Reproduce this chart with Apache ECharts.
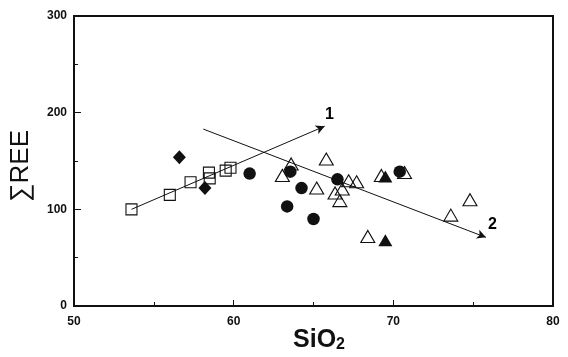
<!DOCTYPE html>
<html>
<head>
<meta charset="utf-8">
<script src="https://cdn.jsdelivr.net/npm/echarts@6/dist/echarts.min.js"></script>
<style>html,body{margin:0;padding:0;background:#fff}#c{width:568px;height:357px}</style>
</head>
<body>
<div id="c"></div>
<script>
const xTicks = [50, 60, 70, 80];
const yTicks = [0, 100, 200, 300];
const openSquares = [[53.6,100],[56,115],[57.3,128],[58.5,132],[58.45,138],[59.5,140],[59.8,143]];
const filledDiamonds = [[56.6,154],[58.2,122]];
const filledCircles = [[61,137],[63.55,139],[63.35,103],[64.25,122],[65,90],[66.5,131],[70.4,139]];
const openTriangles = [[63.6,147],[63.05,135],[65.8,152],[65.2,122],[67.2,129.5],[67.7,128.5],[66.8,121],[66.35,117],[66.65,109],[69.25,135],[70.7,138],[68.4,72],[73.6,94],[74.8,110]];
const filledTriangles = [[69.5,134],[69.5,68]];
const trend1 = [[53.6,100],[65.7,186]];
const trend2 = [[58.1,183],[75.8,71]];
const trendLabels = [[66.0,198,'1'],[76.2,84,'2']];

const chart = echarts.init(document.getElementById('c'), null, {renderer:'canvas'});
const ink = '#111';
const lab = {fontFamily:'Liberation Sans, Arial, sans-serif', fontWeight:'bold', fontSize:12, color:ink};
function trendSeries(pts){
  return {type:'line', data:[], silent:true,
    markLine:{silent:true, symbol:['none','arrow'], symbolSize:[7,9], animation:false,
      label:{show:false}, lineStyle:{color:ink, width:1, type:'solid', opacity:1},
      data:[[{coord:pts[0]},{coord:pts[1]}]]}};
}
chart.setOption({
  animation:false,
  backgroundColor:'#fff',
  grid:{left:74, right:15, top:16, bottom:51, show:true, borderColor:ink, borderWidth:2, backgroundColor:'transparent'},
  xAxis:{type:'value', min:xTicks[0], max:xTicks[xTicks.length-1], interval:10,
    axisLine:{show:true, onZero:false, lineStyle:{color:ink, width:2}},
    axisTick:{show:true, inside:true, length:6, lineStyle:{color:ink, width:1}},
    minorTick:{show:true, splitNumber:2, length:4, lineStyle:{color:ink, width:1}},
    splitLine:{show:false},
    axisLabel:Object.assign({margin:10}, lab)},
  yAxis:{type:'value', min:yTicks[0], max:yTicks[yTicks.length-1], interval:100,
    axisLine:{show:true, onZero:false, lineStyle:{color:ink, width:2}},
    axisTick:{show:true, inside:true, length:7, lineStyle:{color:ink, width:1}},
    minorTick:{show:true, splitNumber:2, length:4, lineStyle:{color:ink, width:1}},
    splitLine:{show:false},
    axisLabel:Object.assign({margin:7}, lab)},
  graphic:[
    {type:'text', x:21, y:166, rotation:Math.PI/2,
      style:{text:'\u2211REE', font:'26px "Liberation Sans", Arial, sans-serif', fill:ink, textAlign:'center', textVerticalAlign:'middle'}},
    {type:'text', x:319, y:340,
      style:{text:'{a|SiO}{b|2}', textAlign:'center', textVerticalAlign:'middle',
        rich:{a:{fontFamily:'Liberation Sans, Arial, sans-serif', fontWeight:'bold', fontSize:25, fill:ink, color:ink},
              b:{fontFamily:'Liberation Sans, Arial, sans-serif', fontWeight:'bold', fontSize:16, fill:ink, color:ink, verticalAlign:'bottom', padding:[8,0,0,0]}}}}
  ],
  series:[
    trendSeries(trend1),
    trendSeries(trend2),
    {type:'scatter', data:openTriangles, symbol:'triangle', symbolSize:[14,12],
      itemStyle:{color:'rgba(255,255,255,0)', borderColor:ink, borderWidth:1.1, opacity:1}},
    {type:'scatter', data:openSquares, symbol:'rect', symbolSize:11,
      itemStyle:{color:'rgba(255,255,255,0)', borderColor:ink, borderWidth:1.1, opacity:1}},
    {type:'scatter', data:filledDiamonds, symbol:'diamond', symbolSize:[13,14],
      itemStyle:{color:ink, opacity:1}},
    {type:'scatter', data:filledCircles, symbol:'circle', symbolSize:12.5,
      itemStyle:{color:ink, opacity:1}},
    {type:'scatter', data:filledTriangles, symbol:'triangle', symbolSize:[14,12],
      itemStyle:{color:ink, opacity:1}},
    {type:'scatter', data:trendLabels.map(d=>[d[0],d[1],d[2]]), symbolSize:0, silent:true,
      itemStyle:{opacity:1},
      label:{show:true, position:'inside', opacity:1, formatter:p=>p.data[2], fontFamily:'Liberation Sans, Arial, sans-serif', fontWeight:'bold', fontSize:16, color:'#000'}}
  ]
});
</script>
</body>
</html>
